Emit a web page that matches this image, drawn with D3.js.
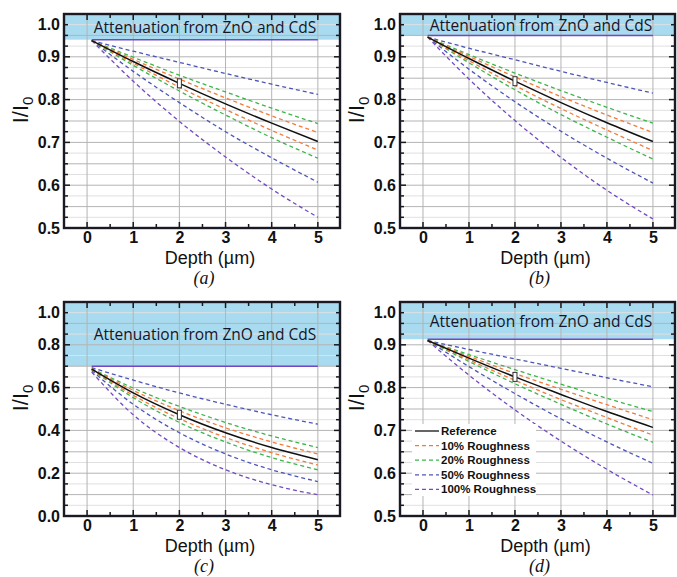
<!DOCTYPE html>
<html>
<head>
<meta charset="utf-8">
<script src="https://cdn.jsdelivr.net/npm/d3@7"></script>
<style>
body { margin:0; background:#fff; }
svg { display:block; }
.tick text { font-family:"Liberation Sans", Arial, sans-serif; font-weight:bold; font-size:16px; fill:#111; }
</style>
</head>
<body>
<svg width="677" height="577"></svg>
<script>
// depth (µm) where the curves were read
var depth = [0.1, 1, 2, 3, 4, 5];

// panel (a)
var refA    = [0.938, 0.889, 0.838, 0.790, 0.745, 0.702];
var r10upA  = [0.938, 0.894, 0.848, 0.804, 0.762, 0.723];
var r10loA  = [0.938, 0.885, 0.829, 0.777, 0.728, 0.682];
var r20upA  = [0.938, 0.899, 0.857, 0.818, 0.780, 0.744];
var r20loA  = [0.938, 0.880, 0.820, 0.764, 0.711, 0.663];
var r50upA  = [0.938, 0.913, 0.887, 0.861, 0.836, 0.812];
var r50loA  = [0.938, 0.866, 0.793, 0.725, 0.664, 0.607];
var r100upA = [0.940, 0.940, 0.940, 0.940, 0.940, 0.940];
var r100loA = [0.938, 0.843, 0.749, 0.666, 0.591, 0.525];

// panel (b)
var refB    = [0.946, 0.896, 0.843, 0.793, 0.746, 0.702];
var r10upB  = [0.946, 0.901, 0.853, 0.807, 0.764, 0.723];
var r10loB  = [0.946, 0.891, 0.833, 0.779, 0.729, 0.681];
var r20upB  = [0.946, 0.905, 0.862, 0.821, 0.782, 0.745];
var r20loB  = [0.946, 0.886, 0.823, 0.765, 0.712, 0.661];
var r50upB  = [0.946, 0.920, 0.893, 0.866, 0.840, 0.815];
var r50loB  = [0.946, 0.871, 0.795, 0.726, 0.663, 0.605];
var r100upB = [0.950, 0.950, 0.950, 0.950, 0.950, 0.950];
var r100loB = [0.946, 0.848, 0.751, 0.665, 0.588, 0.521];

// panel (c)
var refC    = [0.686, 0.575, 0.473, 0.389, 0.320, 0.263];
var r10upC  = [0.688, 0.587, 0.492, 0.412, 0.346, 0.290];
var r10loC  = [0.685, 0.564, 0.455, 0.367, 0.296, 0.238];
var r20upC  = [0.689, 0.598, 0.512, 0.437, 0.374, 0.320];
var r20loC  = [0.684, 0.553, 0.437, 0.346, 0.273, 0.216];
var r50upC  = [0.693, 0.635, 0.575, 0.522, 0.473, 0.429];
var r50loC  = [0.680, 0.522, 0.389, 0.290, 0.216, 0.161];
var r100upC = [0.700, 0.700, 0.700, 0.700, 0.700, 0.700];
var r100loC = [0.673, 0.473, 0.320, 0.216, 0.146, 0.099];

// panel (d)
var refD    = [0.910, 0.869, 0.825, 0.784, 0.744, 0.707];
var r10upD  = [0.910, 0.873, 0.833, 0.796, 0.760, 0.725];
var r10loD  = [0.910, 0.865, 0.817, 0.772, 0.730, 0.689];
var r20upD  = [0.910, 0.877, 0.842, 0.808, 0.775, 0.744];
var r20loD  = [0.910, 0.861, 0.809, 0.761, 0.715, 0.672];
var r50upD  = [0.910, 0.889, 0.867, 0.845, 0.823, 0.802];
var r50loD  = [0.910, 0.849, 0.786, 0.727, 0.673, 0.623];
var r100upD = [0.913, 0.913, 0.913, 0.913, 0.913, 0.913];
var r100loD = [0.910, 0.829, 0.748, 0.675, 0.609, 0.549];

// lower edge of the "attenuation" band
var bandEdge = [0.94, 0.95, 0.70, 0.913];
var panelNames = ["(a)", "(b)", "(c)", "(d)"];
var yMins = [0.5, 0.5, 0.0, 0.5];
var xTicks = [0, 1, 2, 3, 4, 5];
var legendNames = ["Reference", "10% Roughness", "20% Roughness", "50% Roughness", "100% Roughness"];

var orange = "#f07c3c", green = "#3db54a", blue = "#4d55b8", purple = "#7448c2";
var legendColors = ["#111", orange, green, blue, purple];

var allSeries = [
  [refA, r10upA, r10loA, r20upA, r20loA, r50upA, r50loA, r100upA, r100loA],
  [refB, r10upB, r10loB, r20upB, r20loB, r50upB, r50loB, r100upB, r100loB],
  [refC, r10upC, r10loC, r20upC, r20loC, r50upC, r50loC, r100upC, r100loC],
  [refD, r10upD, r10loD, r20upD, r20loD, r50upD, r50loD, r100upD, r100loD]
];
var styles = [
  {color:"#111", dash:null, w:1.5},
  {color:orange, dash:"4,3", w:1.3}, {color:orange, dash:"4,3", w:1.3},
  {color:green,  dash:"4,3", w:1.3}, {color:green,  dash:"4,3", w:1.3},
  {color:blue,   dash:"4,3", w:1.3}, {color:blue,   dash:"4,3", w:1.3},
  {color:purple, dash:null,  w:1.5}, {color:purple, dash:"4,3", w:1.3}
];

var boxes = [
  {left:64,  top:14,  w:276, h:214},
  {left:400, top:14,  w:275, h:214},
  {left:64,  top:302, w:276, h:214},
  {left:400, top:302, w:275, h:214}
];

var svg = d3.select("svg");

boxes.forEach(function(b, i) {
  var yMin = yMins[i];
  var x = d3.scaleLinear().domain([-0.5, 5.48]).range([b.left, b.left + b.w]);
  var y = d3.scaleLinear().domain([yMin, 1.0]).range([b.top + b.h, b.top]);
  var g = svg.append("g");

  var minorStep = yMin == 0 ? 0.05 : 0.025;
  var majorStep = yMin == 0 ? 0.1 : 0.05;
  var labelStep = yMin == 0 ? 0.2 : 0.1;
  var nMinor = Math.round((1 - yMin) / minorStep);
  var minorVals = d3.range(1, nMinor).map(function(k) { return yMin + k * minorStep; });

  // blue band
  g.append("rect")
    .attr("x", b.left).attr("y", y(1.0))
    .attr("width", b.w).attr("height", y(bandEdge[i]) - y(1.0))
    .attr("fill", "#a8dbef");

  // horizontal grid
  g.selectAll(".hg").data(minorVals).enter().append("line")
    .attr("x1", b.left).attr("x2", b.left + b.w)
    .attr("y1", function(d) { return y(d); }).attr("y2", function(d) { return y(d); })
    .attr("stroke", function(d) {
      var m = Math.abs(d / majorStep - Math.round(d / majorStep)) < 1e-6;
      return m ? "#b4b4b4" : "#e0e0e0";
    })
    .attr("stroke-width", 1);

  // vertical grid
  g.selectAll(".vg").data(xTicks).enter().append("line")
    .attr("x1", function(d) { return x(d); }).attr("x2", function(d) { return x(d); })
    .attr("y1", b.top).attr("y2", b.top + b.h)
    .attr("stroke", "#b4b4b4").attr("stroke-width", 1);

  // curves
  var line = d3.line()
    .x(function(d, k) { return x(depth[k]); })
    .y(function(d) { return y(d); })
    .curve(d3.curveMonotoneX);
  var order = [8, 7, 6, 5, 4, 3, 2, 1, 0];
  order.forEach(function(s) {
    g.append("path").datum(allSeries[i][s])
      .attr("d", line)
      .attr("fill", "none")
      .attr("stroke", styles[s].color)
      .attr("stroke-width", styles[s].w)
      .attr("stroke-dasharray", styles[s].dash);
  });

  // marker on reference curve at 2 µm
  var ref2 = allSeries[i][0][depth.indexOf(2)];
  g.append("rect")
    .attr("x", x(2) - 2).attr("y", y(ref2) - 4.5)
    .attr("width", 4).attr("height", 9)
    .attr("fill", "#fff").attr("stroke", "#333").attr("stroke-width", 1);

  // band label
  var bandMid = (y(1.0) + y(bandEdge[i])) / 2;
  g.append("text")
    .attr("x", b.left + 141).attr("y", bandMid + 6)
    .attr("text-anchor", "middle")
    .style("font-family", "'Open Sans', sans-serif")
    .style("font-size", "15.5px")
    .style("fill", "#15152a")
    .text("Attenuation from ZnO and CdS");

  // tick marks on all four sides
  var tickVals = d3.range(0, nMinor + 1).map(function(k) { return yMin + k * minorStep; });
  var xt = d3.range(0, 11).map(function(k) { return k * 0.5; });
  var tk = g.append("g").attr("stroke", "#1a1a1a").attr("stroke-width", 1.5);
  tickVals.forEach(function(v) {
    var isLab = Math.abs(v / labelStep - Math.round(v / labelStep)) < 1e-6;
    var len = isLab ? 6 : 4;
    tk.append("line").attr("x1", b.left).attr("x2", b.left + len).attr("y1", y(v)).attr("y2", y(v));
    tk.append("line").attr("x1", b.left + b.w).attr("x2", b.left + b.w - len).attr("y1", y(v)).attr("y2", y(v));
  });
  xt.forEach(function(v) {
    var len = (v % 1 == 0) ? 6 : 4;
    tk.append("line").attr("x1", x(v)).attr("x2", x(v)).attr("y1", b.top + b.h).attr("y2", b.top + b.h - len);
    tk.append("line").attr("x1", x(v)).attr("x2", x(v)).attr("y1", b.top).attr("y2", b.top + len);
  });

  // frame
  g.append("rect")
    .attr("x", b.left).attr("y", b.top).attr("width", b.w).attr("height", b.h)
    .attr("fill", "none").attr("stroke", "#1a1a24").attr("stroke-width", 2.4);

  // y tick labels
  var labVals = d3.range(0, Math.round((1 - yMin) / labelStep) + 1).map(function(k) { return yMin + k * labelStep; });
  var ya = g.append("g")
    .attr("transform", "translate(" + b.left + ",0)")
    .call(d3.axisLeft(y).tickValues(labVals).tickSize(0).tickPadding(4).tickFormat(d3.format(".1f")));
  ya.select(".domain").remove();
  ya.selectAll(".tick text").filter(function(d) { return Math.abs(d - 1) < 1e-6; }).attr("dy", "0.95em");

  // x tick labels
  var xa = g.append("g")
    .attr("transform", "translate(0," + (b.top + b.h) + ")")
    .call(d3.axisBottom(x).tickValues(xTicks).tickSize(0).tickPadding(4).tickFormat(d3.format("d")));
  xa.select(".domain").remove();

  // axis titles
  g.append("text")
    .attr("x", b.left + b.w / 2 + 8).attr("y", b.top + b.h + 36)
    .attr("text-anchor", "middle")
    .style("font-family", "'Liberation Sans', Arial, sans-serif")
    .style("font-size", "18px").style("fill", "#111")
    .text("Depth (µm)");

  var yl = g.append("text")
    .attr("transform", "translate(" + (b.left - 36) + "," + (b.top + b.h / 2 - 11) + ") rotate(-90)")
    .attr("text-anchor", "middle")
    .style("font-family", "'Liberation Sans', Arial, sans-serif")
    .style("font-size", "22px").style("fill", "#111");
  yl.append("tspan").text("I/I");
  yl.append("tspan").attr("dy", 5).style("font-size", "15px").text("0");

  // panel caption
  g.append("text")
    .attr("x", b.left + b.w / 2 + 2).attr("y", b.top + b.h + 56)
    .attr("text-anchor", "middle")
    .style("font-family", "'Liberation Serif', 'Times New Roman', serif")
    .style("font-style", "italic")
    .style("font-size", "18px").style("fill", "#111")
    .text(panelNames[i]);

  // legend in panel (d)
  if (i == 3) {
    var lg = g.append("g");
    lg.append("rect").attr("x", b.left + 12).attr("y", b.top + 122)
      .attr("width", 124).attr("height", 72).attr("fill", "#fff");
    legendNames.forEach(function(name, k) {
      var ly = b.top + 129 + k * 14.6;
      lg.append("line")
        .attr("x1", b.left + 15).attr("x2", b.left + 39)
        .attr("y1", ly).attr("y2", ly)
        .attr("stroke", legendColors[k]).attr("stroke-width", 1.3)
        .attr("stroke-dasharray", k == 0 ? null : "4,3");
      lg.append("text")
        .attr("x", b.left + 41).attr("y", ly + 4)
        .style("font-family", "'Liberation Sans', Arial, sans-serif")
        .style("font-weight", "bold").style("font-size", "11.5px").style("fill", "#111")
        .text(name);
    });
  }
});
</script>
</body>
</html>
